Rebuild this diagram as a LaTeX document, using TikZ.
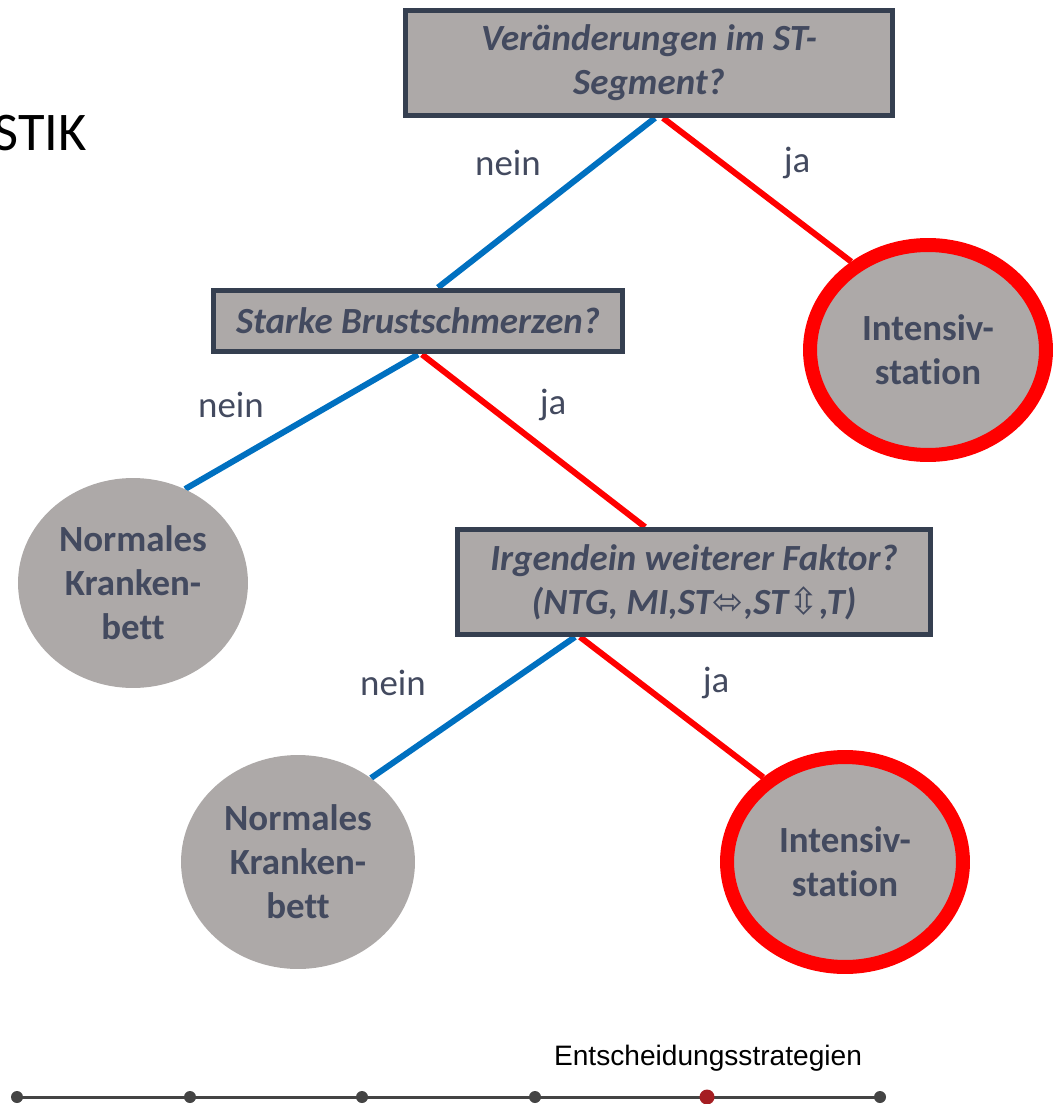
\documentclass[tikz,border=0pt]{standalone}
\usepackage{fontspec}
\setmainfont{Carlito}[Ligatures=NoCommon]
\newfontfamily\arrowfont{DejaVu Sans}
\newfontfamily\plainfont{Liberation Sans}
\usepackage{xcolor}
\usetikzlibrary{shapes.geometric,backgrounds}

\definecolor{boxgray}{RGB}{173,169,168}
\definecolor{boxline}{RGB}{53,63,80}
\definecolor{boxtext}{RGB}{67,74,95}
\definecolor{neinblue}{RGB}{0,112,192}
\definecolor{jared}{RGB}{255,0,0}
\definecolor{dotgray}{RGB}{68,68,68}
\definecolor{dotred}{RGB}{165,30,34}

\begin{document}
\begin{tikzpicture}[x=0.02cm,y=-0.02cm,
   question/.style={draw=boxline,line width=0.1cm,fill=boxgray,text=boxtext,align=center,
      inner sep=0pt,font=\fontsize{21}{25}\selectfont\bfseries\itshape},
   leaf/.style={ellipse,fill=boxgray,text=boxtext,align=center,inner sep=0pt,
      font=\fontsize{21}{25}\selectfont\bfseries},
   icu/.style={leaf,draw=jared,line width=0.28cm},
   answer/.style={text=boxtext,font=\fontsize{21}{24}\selectfont},
   nein/.style={draw=neinblue,line width=0.12cm},
   ja/.style={draw=jared,line width=0.12cm}]

\useasboundingbox (0,0) rectangle (1052,1104);

\node[anchor=east,font=\fontsize{31}{34}\selectfont] (title) at (93,133) {STIK};

\node[question,minimum width=9.74cm,minimum height=2.1cm] (seg) at (649,63) {Veränderungen im ST-\\Segment?};
\node[question,minimum width=8.18cm,minimum height=1.24cm] (pain) at (418,321) {Starke Brustschmerzen?};
\node[question,minimum width=9.46cm,minimum height=2.1cm] (factor) at (694,582)
   {Irgendein weiterer Faktor?\\(NTG, MI,ST{\arrowfont\mdseries ⬄},ST{\arrowfont\mdseries ⇳},T)};

\node[icu,minimum width=4.72cm,minimum height=4.2cm] (icuA) at (928,350) {Intensiv-\\station};
\node[leaf,minimum width=4.6cm,minimum height=4.2cm] (bedA) at (133,583) {Normales\\Kranken-\\bett};
\node[leaf,minimum width=4.68cm,minimum height=4.28cm] (bedB) at (298,862) {Normales\\Kranken-\\bett};
\node[icu,minimum width=4.72cm,minimum height=4.2cm] (icuB) at (845,862) {Intensiv-\\station};

\begin{scope}[on background layer]
\draw[nein] ([xshift=0.12cm]seg.south) -- ([xshift=0.4cm]pain.north);
\draw[ja] ([xshift=0.28cm]seg.south) -- (icuA.131);
\draw[nein] (pain.south) -- (bedA.61);
\draw[ja] ([xshift=0.08cm]pain.south) -- ([xshift=-0.98cm]factor.north);
\draw[nein] ([xshift=-2.38cm]factor.south) -- (bedB.49);
\draw[ja] ([xshift=-2.28cm]factor.south) -- (icuB.134);
\end{scope}

\node[answer] (n1) at (508,163) {nein};
\node[answer] (j1) at (797,163) {ja};
\node[answer] (n2) at (231,405) {nein};
\node[answer] (j2) at (553,405) {ja};
\node[answer] (n3) at (393,683) {nein};
\node[answer] (j3) at (716,683) {ja};

% Fortschrittsleiste
\node[font=\plainfont\fontsize{16}{18}\selectfont] (step) at (708,1058) {Entscheidungsstrategien};
\draw[dotgray,line width=0.06cm] (17,1097) -- (880,1097);
\foreach \x in {17,190,362,535,880}
   \fill[dotgray] (\x,1097) circle (0.12cm);
\fill[dotred] (707,1097) circle (0.15cm);

\end{tikzpicture}
\end{document}
